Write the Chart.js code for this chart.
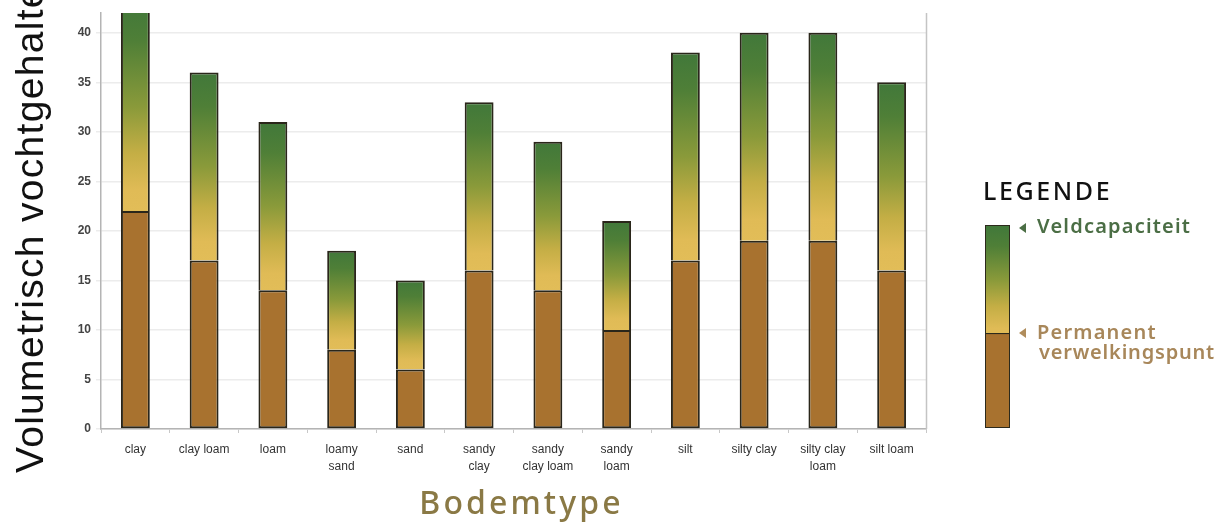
<!DOCTYPE html>
<html>
<head>
<meta charset="utf-8">
<title>Bodemtype – vochtgehalte</title>
<script src="https://cdn.jsdelivr.net/npm/chart.js@4/dist/chart.umd.min.js"></script>
<style>
  html, body { margin: 0; padding: 0; background: #ffffff; }
  #wrap { position: relative; width: 1223px; height: 527px; overflow: hidden; background: #ffffff; }
  #chart { position: absolute; left: 0; top: 0; width: 1223px; height: 527px; }
  .ytitle {
    position: absolute; left: 10px; top: 473px;
    transform-origin: 0 0; transform: rotate(-90deg);
    font-family: "Liberation Sans", Arial, sans-serif; font-size: 39px; line-height: 1;
    letter-spacing: 1.3px; color: #111111; white-space: nowrap;
  }
  .xtitle {
    position: absolute; left: 0; width: 1043px; top: 486px; text-align: center;
    font-family: "Noto Sans", sans-serif; font-weight: 500; font-size: 32px; line-height: 1;
    letter-spacing: 3.1px; color: #8a7945; white-space: nowrap;
  }
  .legend-title {
    position: absolute; left: 983px; top: 178px;
    font-family: "Noto Sans", sans-serif; font-weight: 500; font-size: 25px; line-height: 1;
    letter-spacing: 2.6px; color: #111111; white-space: nowrap;
  }
  .legend-bar {
    position: absolute; left: 985px; top: 225px; width: 23px; height: 201px;
    border: 1.5px solid #2c2a1c;
    background: linear-gradient(to bottom, #41783a 0%, #4f7f37 10%, #8a9a3a 27%, #c4ae45 40%, #e0bb56 51%, #e0bb56 53%, #2c2a1c 53%, #2c2a1c 53.8%, #a8722f 54%, #a8722f 100%);
  }
  .legend-arrow {
    position: absolute; width: 0; height: 0;
    border-top: 5px solid transparent; border-bottom: 5px solid transparent;
    border-right: 7px solid #4b6e45;
  }
  .legend-label {
    position: absolute; font-family: "Noto Sans", sans-serif; font-weight: 600;
    font-size: 20px; line-height: 20px; white-space: nowrap; letter-spacing: 1.2px;
  }
</style>
</head>
<body>
<div id="wrap">
  <canvas id="chart" width="1223" height="527"></canvas>
  <div class="ytitle">Volumetrisch vochtgehalte</div>
  <div class="xtitle">Bodemtype</div>

  <div class="legend-title">LEGENDE</div>
  <div class="legend-bar"></div>
  <div class="legend-arrow" style="left:1019px; top:223px;"></div>
  <div class="legend-label" style="left:1037px; top:216px; color:#4b6e45;">Veldcapaciteit</div>
  <div class="legend-arrow" style="left:1019px; top:328px; border-right-color:#b08d5c;"></div>
  <div class="legend-label" style="left:1037px; top:322px; color:#a8875a;">Permanent<br><span style="padding-left:2px; letter-spacing:0.8px">verwelkingspunt</span></div>
</div>

<script>
// Soil types (multi-line labels as drawn under the axis)
const soilTypes = [
  ['clay'], ['clay loam'], ['loam'], ['loamy', 'sand'], ['sand'],
  ['sandy', 'clay'], ['sandy', 'clay loam'], ['sandy', 'loam'], ['silt'],
  ['silty clay'], ['silty clay', 'loam'], ['silt loam']
];

// Permanent wilting point (volumetric %, per soil type)
const wiltingPoint = [22, 17, 14, 8, 6, 16, 14, 10, 17, 19, 19, 16];

// Field capacity (volumetric %, per soil type)
const fieldCapacity = [43, 36, 31, 18, 15, 33, 29, 21, 38, 40, 40, 35];

// Y axis range and tick step
const yMin = 0;
const yMax = 42;
const yStep = 5;

// Plant-available water = field capacity minus wilting point (stacked on top)
const availableWater = fieldCapacity.map((fc, i) => fc - wiltingPoint[i]);

const BROWN = '#a8722f';
const EDGE = '#2a261a';

// Vertical gradient per bar: yellow at wilting point, green at field capacity
function waterGradient(ctx) {
  const chart = ctx.chart;
  if (!chart.chartArea || ctx.type !== 'data') return '#b9a848';
  const y = chart.scales.y;
  const i = ctx.dataIndex;
  const top = y.getPixelForValue(fieldCapacity[i]);
  const bottom = y.getPixelForValue(wiltingPoint[i]);
  const g = chart.ctx.createLinearGradient(0, top, 0, bottom);
  g.addColorStop(0, '#41783a');
  g.addColorStop(0.18, '#4f7f37');
  g.addColorStop(0.5, '#8a9a3a');
  g.addColorStop(0.72, '#c4ae45');
  g.addColorStop(0.9, '#e0bb56');
  g.addColorStop(1, '#e2bd58');
  return g;
}

// Thin frame line on the right side of the plot
const rightFrame = {
  id: 'rightFrame',
  afterDraw(chart) {
    const { ctx, chartArea } = chart;
    ctx.save();
    ctx.strokeStyle = '#c4c4c4';
    ctx.lineWidth = 1.5;
    ctx.beginPath();
    ctx.moveTo(chartArea.right + 0.5, chartArea.top);
    ctx.lineTo(chartArea.right + 0.5, chartArea.bottom);
    ctx.stroke();
    ctx.restore();
  }
};

new Chart(document.getElementById('chart'), {
  type: 'bar',
  data: {
    labels: soilTypes,
    datasets: [
      {
        label: 'Permanent verwelkingspunt',
        data: wiltingPoint,
        backgroundColor: BROWN,
        borderColor: EDGE,
        borderWidth: 2,
        borderSkipped: false,
        clip: 0
      },
      {
        label: 'Veldcapaciteit',
        data: availableWater,
        backgroundColor: waterGradient,
        borderColor: EDGE,
        borderWidth: 2,
        borderSkipped: 'start',
        clip: 0
      }
    ]
  },
  options: {
    responsive: false,
    animation: false,
    devicePixelRatio: 1,
    categoryPercentage: 1,
    barPercentage: 0.42,
    layout: { padding: { left: 0, right: 297, top: 13, bottom: 0 } },
    plugins: {
      legend: { display: false },
      tooltip: { enabled: false },
      title: { display: false }
    },
    scales: {
      x: {
        stacked: true,
        grid: { offset: true, drawOnChartArea: false, tickLength: 4, color: '#c8c8c8' },
        border: { color: '#b4b4b4', width: 1.5 },
        ticks: {
          color: '#333333',
          font: { family: 'Liberation Sans, Arial, sans-serif', size: 12, lineHeight: 1.4 },
          padding: 8,
          maxRotation: 0,
          autoSkip: false
        },
        afterFit(scale) { scale.height = 98; }
      },
      y: {
        stacked: true,
        min: yMin,
        max: yMax,
        ticks: {
          stepSize: yStep,
          includeBounds: false,
          color: '#444444',
          font: { family: 'Liberation Sans, Arial, sans-serif', size: 12, weight: 'bold' },
          padding: 5
        },
        grid: { color: '#ececec', tickLength: 5, lineWidth: 1.5 },
        border: { color: '#b4b4b4', width: 1.5 },
        afterFit(scale) { scale.width = 101; }
      }
    }
  },
  plugins: [rightFrame]
});
</script>
</body>
</html>
